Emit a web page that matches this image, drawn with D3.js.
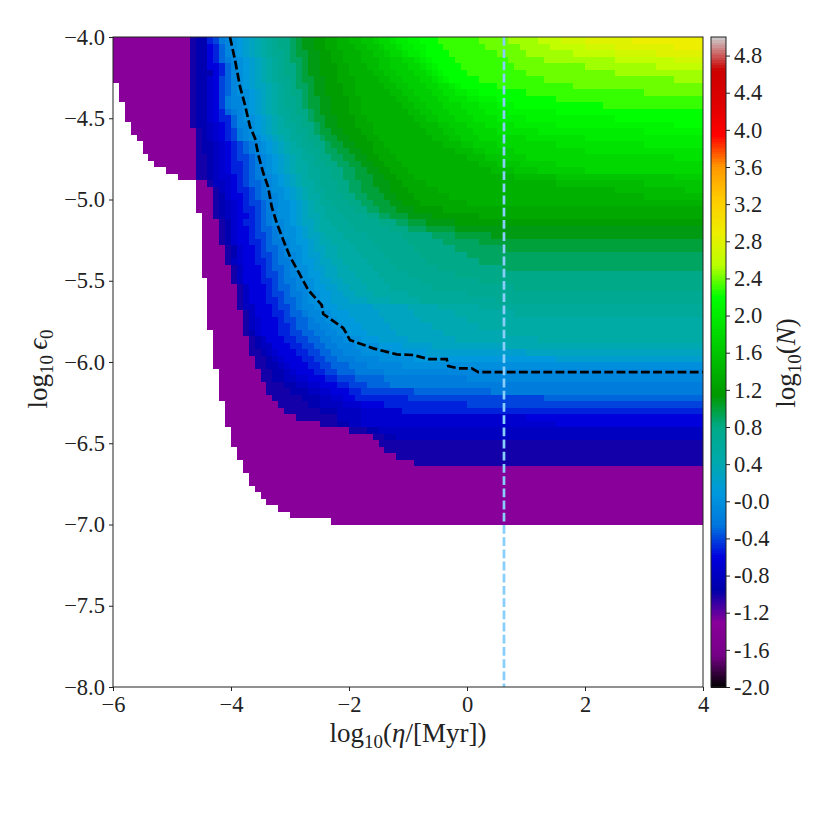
<!DOCTYPE html>
<html>
<head>
<meta charset="utf-8">
<script src="https://cdn.jsdelivr.net/npm/d3@7"></script>
<style>
body { margin: 0; background: #fff; }
text { font-family: "Liberation Serif", serif; fill: #222; }
.tick text { font-size: 22.5px; }
.axis-label { font-size: 27px; }
</style>
</head>
<body>
<div id="chart"></div>
<script>
// nipy_spectral stops, position on the colour bar and rgb
const cmapPos = [0,.05,.1,.15,.2,.25,.3,.35,.4,.45,.5,.55,.6,.65,.7,.75,.8,.85,.9,.95,1]
const cmapColors = ['#000000','#770088','#880099','#0000aa','#0000dd','#0077dd','#0099dd','#00aaaa','#00aa88','#009900','#00bb00','#00dd00','#00ff00','#bbff00','#eeee00','#ffcc00','#ff9900','#ff0000','#dd0000','#cc0000','#cccccc']
const cbarTicks = [-2,-1.6,-1.2,-0.8,-0.4,0,0.4,0.8,1.2,1.6,2,2.4,2.8,3.2,3.6,4,4.4,4.8]
const xTicks = [-6,-4,-2,0,2,4]
const yTicks = [-4,-4.5,-5,-5.5,-6,-6.5,-7,-7.5,-8]

// grid is 100 columns of log10(eta), rows of log10(eps0) from the top
const nCols = 100
const cellEta = 0.1
const cellEps = 0.04
// letter -> log10(N)
const levelKeys = 'adefghijklmnopqrstuvwxyzABCDEFGHIJKLMNOPQ'.split('')
const levelVals = [-1.3,-1.0,-0.9,-0.8,-0.7,-0.6,-0.5,-0.4,-0.3,-0.2,-0.1,0,0.1,0.2,0.3,0.4,0.5,0.6,0.7,0.8,0.9,1.0,1.1,1.2,1.3,1.4,1.5,1.6,1.7,1.8,1.9,2.0,2.1,2.2,2.3,2.4,2.5,2.6,2.7,2.8,2.9]
// each row: level letter + column where that level starts, empty before the first one
const rowBands = [
'a0 d13 e14 i16 j17 l18 m19 n20 o21 p22 q23 r24 s25 t26 u27 v28 w30 x31 y32 z34 A36 B38 C40 D42 E44 F45 G47 H48 I50 J52 K55 L62 M67 N72 O76 P80 Q88',
'a0 d13 e14 h16 i17 k18 m19 n20 o21 p22 q23 r24 s25 t26 u27 v28 w30 x31 y32 z34 A36 B38 C41 D43 E45 F46 G48 H49 I51 J53 K56 L63 M69 N74 O80 P85 Q95',
'a0 d13 e14 h16 i17 k18 m19 n20 o21 p22 q23 r24 s25 t26 u27 v29 w30 x31 y33 z35 A37 B39 C42 D44 E46 F47 G49 H50 I52 J53 K57 L65 M70 N78 O85 P92',
'a0 d13 e14 h16 i17 k18 l19 m20 n21 o22 p23 q24 r25 s26 t27 u28 v29 w30 x32 y33 z35 A37 B39 C42 D45 E47 F49 G51 H52 I53 J54 K58 L67 M73 N85 O95',
'a0 d13 e14 h16 i18 k19 m20 n21 o22 p23 q24 r25 s26 t27 u28 v29 w31 x32 y33 z35 A38 B40 C43 D45 E47 F50 G52 H53 I54 J55 K59 L68 M80 N92',
'a0 d13 e14 h17 i18 k19 m20 n21 o22 p23 q24 r25 s26 t27 u28 v29 w31 x32 y33 z35 A38 B40 C44 D46 E48 F51 G53 H54 I55 J56 K60 L70 M85',
'a0 d13 e14 g16 h17 j18 k19 m20 n21 o22 p23 q24 r25 s26 t27 u28 v30 w31 x32 y34 z36 A38 B41 C45 D47 E49 F52 G54 H55 I56 J57 K62 L73 M95',
'a1 d13 e14 g16 h17 j18 k19 m20 n21 o22 p23 q24 r26 s27 t28 u29 v30 w31 x33 y34 z36 A39 B41 C46 D48 E50 F53 G55 H57 I58 J59 K65 L78',
'a1 d13 e14 g16 h17 j18 k19 m20 n21 o23 p24 q25 r26 s27 t28 u29 v30 w32 x33 y34 z36 A39 B41 C47 D49 E51 F54 G56 H58 I60 J62 K70 L90',
'a1 d13 e14 g16 h17 j18 l19 m20 n22 o23 p24 q25 r26 s27 t28 u29 v31 w32 x33 y35 z37 A40 B42 C48 D50 E52 F55 G57 H60 I62 J65 K75',
'a2 d13 e14 g16 h17 j18 l19 m20 n22 o23 p24 q25 r26 s27 t28 u29 v31 w32 x33 y35 z37 A40 B42 C49 D51 E53 F56 G59 H62 I65 J68 K83',
'a2 d13 e14 g16 h17 i18 k19 l20 m21 n22 o23 p24 q25 r26 s27 t28 u30 v31 w33 x34 y35 z37 A40 B42 C50 D52 E54 F57 G60 H63 I67 J75',
'a2 d13 e14 g16 h17 i18 k20 m21 n22 o24 p25 q26 r27 s28 t29 u30 v32 w33 x34 y36 z38 A41 B43 C51 D53 E55 F58 G61 H65 I70 J85',
'a3 d13 e14 f16 g17 h18 i19 k20 m21 n23 o24 p25 q26 r27 s28 t29 u31 v32 w34 x35 y36 z38 A41 B44 C52 D55 E57 F60 G63 H68 I75 J95',
'a3 d14 e15 f16 g17 h18 i19 j20 l21 m22 n23 o24 p25 q26 r27 s28 t30 u31 v33 w34 x35 y37 z39 A42 B44 C53 D56 E58 F61 G65 H72 I90',
'a4 d14 e15 f16 g17 h18 i19 j20 l21 m22 n23 o25 p26 q27 r28 s29 t30 u32 v33 w35 x36 y38 z40 A43 B45 C54 D57 E59 F62 G70 H80',
'a5 d14 e15 f17 g18 h19 i20 j21 k22 l23 m24 n25 o26 p27 q28 r29 s30 t31 u32 v34 w36 x37 y39 z41 A44 B46 C56 D59 E61 F65 G75 H90',
'a5 d14 e15 f17 g18 h19 i20 j21 k22 l23 m24 n25 o26 p27 q28 r29 s30 t32 u33 v35 w36 x38 y40 z42 A44 B47 C58 D61 E63 F68 G80',
'a6 d14 e16 f17 g18 h19 i20 j21 k23 l24 m25 n26 o27 p28 q29 r30 s31 t32 u34 v35 w37 x39 y41 z43 A45 B48 C60 D63 E66 F70 G95',
'a7 d14 e16 f17 g18 h19 i20 j22 k23 l24 m25 n26 o27 p28 q29 r30 s31 t33 u34 v36 w38 x40 y42 z44 A46 B49 C62 D65 E69 F75',
'a9 d14 e16 f17 g18 h19 i20 j22 k23 l24 m25 n26 o27 p28 q29 r30 s31 t33 u35 v37 w39 x41 y43 z45 A47 B50 C64 D68 E72 F80',
'a11 d14 e16 f17 g18 h20 i21 j22 k23 l24 m25 n27 o28 p29 q30 r31 s32 t33 u35 v37 w39 x41 y44 z46 A48 B51 C68 D75 E95',
'a14 d16 f17 g19 h20 i21 j22 k23 l25 m26 n27 o28 p29 q30 r31 s32 t34 u35 v38 w40 x42 y44 z47 A49 B53 C75 D90',
'a14 d17 f18 g19 h20 i21 j23 k24 l25 m26 n27 o29 p30 q31 r32 s33 t34 u36 v38 w40 x42 y45 z47 A50 B55 C85 D97',
'a14 d17 e18 g19 h20 i22 j23 k24 l25 m27 n28 o29 p30 q31 r32 s33 t35 u36 v39 w41 x43 y46 z48 A51 B57 C90',
'a14 d17 e18 f19 g20 h21 i22 j23 k25 l26 m27 n28 o30 p31 q32 r33 s34 t35 u37 v40 w42 x44 y47 z49 A52 B60',
'a14 d17 e18 f19 g20 h21 i22 j24 k25 l26 m27 n28 o30 p31 q32 r33 s34 t36 u38 v41 w43 x45 y48 z51 A56',
'a15 d17 e18 f19 g20 h21 i23 j24 k25 l26 m27 n28 o30 p31 q32 r33 s35 t36 u39 v43 w45 x47 y50 z54 A62',
'a15 d18 e19 g20 h21 i22 j24 k25 l26 m27 n29 o30 p31 q32 r34 s35 t37 u40 v45 w48 x50 y53 z58',
'a15 d18 e19 g20 h21 i23 j24 k25 l27 m28 n29 o31 p32 q33 r34 s35 t38 u41 v47 w50 x53 y58',
'a15 d18 e19 g20 h21 i23 j24 k26 l27 m28 n29 o31 p32 q33 r35 s36 t39 u43 v49 w54 x58 y64',
'a15 d18 e19 g20 h21 i23 j25 k26 l27 m29 n30 o31 p33 q34 r35 s37 t40 u44 v50 w56 x62',
'a15 d19 e20 g21 h22 i24 j25 k26 l28 m29 n30 o32 p33 q34 r36 s38 t41 u45 v51 w58 x66',
'a15 d19 e20 g21 h22 i24 j25 k27 l28 m29 n31 o32 p33 q35 r36 s38 t42 u46 v52 w60',
'a15 d19 f20 g21 h22 i24 j26 k27 l28 m30 n31 o32 p34 q35 r37 s39 t43 u47 v53 w62',
'a15 d20 f21 h22 i25 j26 k27 l29 m30 n31 o33 p34 q36 r38 s40 t44 u48 v55 w66',
'a15 d20 f21 h22 i25 j26 k28 l29 m30 n32 o33 p35 q36 r38 s41 t45 u50 v58',
'a16 d20 f21 h22 i25 j27 k28 l29 m31 n32 o34 p35 q37 r39 s42 t46 u52 v62',
'a16 d21 f22 h23 i26 j27 k28 l30 m31 n33 o34 p36 q38 r40 s43 t47 u54 v68',
'a16 d21 f22 h23 i26 j27 k29 l30 m32 n33 o35 p37 q39 r41 s44 t50 u60',
'a16 d21 f22 h23 i26 j28 k29 l31 m32 n33 o35 p37 q40 r43 s47 t52 u65',
'a16 d21 f22 h24 i27 j28 k30 l31 m32 n34 o36 p38 q44 r50 s55 t62',
'a16 d22 f23 h24 i27 j29 k30 l32 m33 n35 o37 p40 q45 r51 s58 t68',
'a16 d22 f23 g24 h25 i28 j29 k31 l33 m34 n36 o38 p41 q46 r52 s60',
'a16 d22 f23 g24 h25 i28 j30 k31 l33 m35 n37 o39 p42 q47 r54 s62',
'a17 d22 e23 g24 h25 i28 j30 k32 l34 m36 n38 o40 p43 q48 r56 s66',
'a17 d23 e24 f25 h26 i29 j31 k33 l35 m37 n39 o42 p45 q50 r58 s72',
'a17 d23 e24 f25 h27 i30 j32 k34 l36 m38 n41 o45 p49 q54 r66',
'a17 d23 e25 f26 g27 h28 i31 j33 k35 l37 m39 n42 o47 p53 q70',
'a17 d24 e26 f27 g28 h29 i32 j34 k36 l38 m41 n45 o51 p75',
'a17 d24 e26 f28 g29 h30 i33 j35 k37 l40 m43 n49',
'a18 d25 e27 f29 g30 h31 i34 j36 k38 l41 m46',
'a18 d25 e27 f29 g31 h33 i36 j38 k41 l46 m60',
'a18 d26 e29 f31 g33 h35 i38 j40 k43 l47',
'a18 d26 e30 f33 g35 h37 i40 j42 k51 l64',
'a18 d27 e32 f35 g37 h39 i41 j50 k73',
'a19 d28 e33 f35 g39 h42 i46 j60',
'a19 d29 e35 f38 g42 i49',
'a19 d31 f38 g42 h70',
'a19 d35 e38 f40 g42 h75',
'a20 d40 e43 f45',
'a20 d44 e46 f48',
'a20 d45',
'a21 d46',
'a21 d48',
'a22 d51',
'a22',
'a23',
'a23',
'a24',
'a25',
'a26',
'a28',
'a30',
'a37'
]
// black dashed contour
const lineEta = [-4.017,-3.932,-3.847,-3.763,-3.678,-3.593,-3.537,-3.453,-3.373,-3.31,-3.225,-3.114,-3,-2.859,-2.69,-2.463,-2.436,-2.097,-1.983,-1.588,-1.192,-0.91,-0.656,-0.344,-0.317,-0.147,0.08,0.192,4]
const lineEps = [-4,-4.142,-4.306,-4.418,-4.552,-4.623,-4.726,-4.837,-4.921,-5.044,-5.145,-5.249,-5.352,-5.444,-5.557,-5.649,-5.705,-5.791,-5.865,-5.916,-5.953,-5.957,-5.982,-5.982,-6.025,-6.039,-6.039,-6.062,-6.062]
const etaMark = 0.627

const width = 830
const height = 830
const margin = {top:37,left:113,bottom:143,right:127}
const cbarX = 711
const cbarW = 15
const dash = '8.8 3.4'

const svg = d3.select('#chart').append('svg').attr('width',width).attr('height',height)

const xScale = d3.scaleLinear().domain([-6,4]).range([margin.left,width-margin.right])
const yScale = d3.scaleLinear().domain([-8,-4]).range([height-margin.bottom,margin.top])
const color = d3.scaleLinear().domain(cmapPos.map(t=>-2+7*t)).range(cmapColors).clamp(true)

// 把字符串展开成格子
const cells = []
rowBands.forEach((row,r)=>{
    const bands = row.split(' ').map(b=>({v:levelVals[levelKeys.indexOf(b[0])],start:+b.slice(1)}))
    bands.forEach((b,i)=>{
        const end = i<bands.length-1 ? bands[i+1].start : nCols
        for(let c=b.start;c<end;c++) cells.push({c,r,v:b.v})
    })
})

svg.append('g').selectAll('rect').data(cells).join('rect')
.attr('x',d=>xScale(-6+d.c*cellEta))
.attr('y',d=>yScale(-4-d.r*cellEps))
.attr('width',d=>xScale(-6+(d.c+1)*cellEta)-xScale(-6+d.c*cellEta))
.attr('height',d=>yScale(-4-(d.r+1)*cellEps)-yScale(-4-d.r*cellEps))
.attr('fill',d=>color(d.v))
.attr('shape-rendering','crispEdges')

// 两条虚线
const line = d3.line().x(d=>xScale(d[0])).y(d=>yScale(d[1]))
svg.append('path').attr('d',line(d3.zip(lineEta,lineEps)))
.attr('fill','none').attr('stroke','#000').attr('stroke-width',2.7).attr('stroke-dasharray',dash)
svg.append('line').attr('x1',xScale(etaMark)).attr('x2',xScale(etaMark))
.attr('y1',yScale(-4)).attr('y2',yScale(-8))
.attr('stroke','#87cefa').attr('stroke-width',2.7).attr('stroke-dasharray',dash)

// 坐标轴
const minus = s=>s.replace('-','\u2212')
const xAxis = d3.axisBottom(xScale).tickValues(xTicks).tickSize(4).tickPadding(5).tickFormat(d=>minus(d3.format('d')(d)))
const yAxis = d3.axisLeft(yScale).tickValues(yTicks).tickSize(4).tickPadding(4).tickFormat(d=>minus(d3.format('.1f')(d)))
svg.append('g').attr('transform',`translate(0,${height-margin.bottom})`).call(xAxis)
svg.append('g').attr('transform',`translate(${margin.left},0)`).call(yAxis)
svg.append('rect').attr('x',margin.left).attr('y',margin.top)
.attr('width',width-margin.left-margin.right).attr('height',height-margin.top-margin.bottom)
.attr('fill','none').attr('stroke','#222').attr('stroke-width',1)

// 色标
const cbarSteps = d3.range(-2,5,7/256)
svg.append('g').selectAll('rect').data(cbarSteps).join('rect')
.attr('x',cbarX).attr('width',cbarW)
.attr('y',d=>yScale(-8)+(yScale(-4)-yScale(-8))*(d+2)/7-3)
.attr('height',3.5)
.attr('fill',d=>color(d+3.5/256))
.attr('shape-rendering','crispEdges')
const cScale = d3.scaleLinear().domain([-2,5]).range([height-margin.bottom,margin.top])
const cAxis = d3.axisRight(cScale).tickValues(cbarTicks).tickSize(4).tickPadding(4).tickFormat(d=>{
    const t = d3.format('.1f')(Math.abs(d))
    return (d<=0 ? '-' : '')+t
})
svg.append('g').attr('transform',`translate(${cbarX+cbarW},0)`).call(cAxis)
svg.append('rect').attr('x',cbarX).attr('y',margin.top).attr('width',cbarW).attr('height',height-margin.top-margin.bottom)
.attr('fill','none').attr('stroke','#222').attr('stroke-width',1)
svg.selectAll('.domain').remove()
svg.selectAll('.tick line').attr('stroke','#222')

// 轴标题
function sub(t,s){ t.append('tspan').text(s).attr('font-size','70%').attr('dy',6) }
const xl = svg.append('text').attr('class','axis-label').attr('x',408).attr('y',742).attr('text-anchor','middle')
xl.append('tspan').text('log')
sub(xl,'10')
xl.append('tspan').text('(').attr('dy',-6)
xl.append('tspan').text('\u03b7').attr('font-style','italic')
xl.append('tspan').text('/[Myr])')

const yl = svg.append('text').attr('class','axis-label').attr('transform','translate(47,369) rotate(-90)').attr('text-anchor','middle')
yl.append('tspan').text('log')
sub(yl,'10')
yl.append('tspan').text('\u2009\u03f5').attr('dy',-6).attr('font-style','italic')
sub(yl,'0')

const cl = svg.append('text').attr('class','axis-label').attr('transform','translate(795,363) rotate(-90)').attr('text-anchor','middle')
cl.append('tspan').text('log')
sub(cl,'10')
cl.append('tspan').text('(').attr('dy',-6)
cl.append('tspan').text('N').attr('font-style','italic')
cl.append('tspan').text(')')
</script>
</body>
</html>
